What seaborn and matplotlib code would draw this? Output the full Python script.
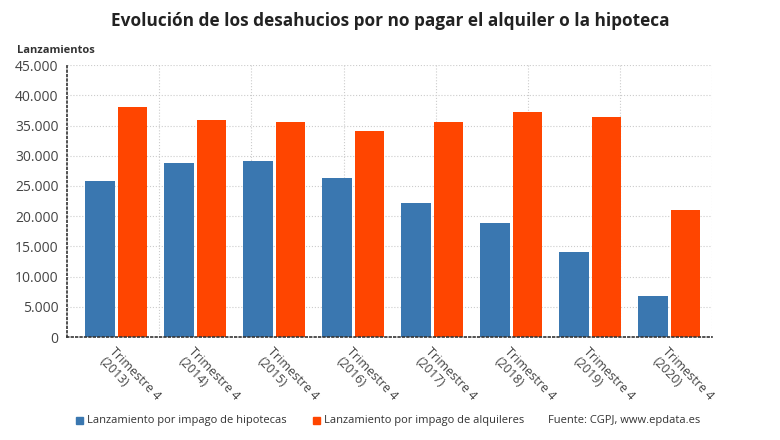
import numpy as np
import pandas as pd
import matplotlib.pyplot as plt
import seaborn as sns

years = ['2013', '2014', '2015', '2016', '2017', '2018', '2019', '2020']
hipotecas = [25800, 28800, 29100, 26300, 22200, 18900, 14100, 6800]
alquileres = [38000, 35900, 35600, 34100, 35600, 37200, 36400, 21000]
series_names = ['Lanzamiento por impago de hipotecas', 'Lanzamiento por impago de alquileres']
colors = ['#3a77b0', '#ff4500']
yticks = [0, 5000, 10000, 15000, 20000, 25000, 30000, 35000, 40000, 45000]

sns.set_style('white')
plt.rcParams['font.family'] = ['Open Sans', 'DejaVu Sans']

labels = [f'Trimestre 4\n({y})' for y in years]
df = pd.DataFrame({
    'periodo': labels * 2,
    'valor': hipotecas + alquileres,
    'serie': [series_names[0]] * len(years) + [series_names[1]] * len(years),
})

fig = plt.figure(figsize=(7.8, 4.4), dpi=100)
ax = fig.add_axes([0.086, 0.234, 0.827, 0.618])

sns.barplot(data=df, x='periodo', y='valor', hue='serie', palette=colors,
            width=0.822, gap=0.09, saturation=1, linewidth=0, legend=False, ax=ax)

ax.set_ylim(0, 45000)
ax.set_xlim(-0.62, len(years) - 0.46)
ax.set_yticks(yticks)
ax.set_yticklabels([f'{v:,}'.replace(',', '.') for v in yticks], fontsize=10, color='#444444')
ax.set_xticks(range(len(years)))
ax.set_xticklabels(labels, rotation=-46, ha='left', rotation_mode='anchor',
                   fontsize=9, color='#444444', linespacing=1.1)
ax.set_xlabel('')
ax.set_ylabel('')

# dotted grid: horizontal at y ticks, vertical splitting the width in 7 parts
for v in yticks[1:]:
    ax.axhline(v, color='#cccccc', lw=0.8, ls=':', zorder=0)
for k in range(1, 8):
    ax.plot([k / 7, k / 7], [0, 1], transform=ax.transAxes, color='#cccccc',
            lw=0.8, ls=':', zorder=0)

for side in ['top', 'right']:
    ax.spines[side].set_visible(False)
for side in ['left', 'bottom']:
    ax.spines[side].set_linestyle(':')
    ax.spines[side].set_color('#333333')
    ax.spines[side].set_linewidth(1.2)
ax.tick_params(axis='both', length=3, color='#333333', pad=3)

fig.text(0.5, 0.952, 'Evolución de los desahucios por no pagar el alquiler o la hipoteca',
         ha='center', va='center', fontsize=12.4, fontweight='bold', color='#222222')
fig.text(0.022, 0.885, 'Lanzamientos', ha='left', va='center', fontsize=8,
         fontweight='bold', color='#333333')

# legend row at the bottom
fig.patches.append(plt.Rectangle((0.0975, 0.036), 0.0095, 0.017, transform=fig.transFigure,
                                 color=colors[0], figure=fig))
fig.text(0.112, 0.044, series_names[0], ha='left', va='center', fontsize=8, color='#333333')
fig.patches.append(plt.Rectangle((0.401, 0.036), 0.0095, 0.017, transform=fig.transFigure,
                                 color=colors[1], figure=fig))
fig.text(0.416, 0.044, series_names[1], ha='left', va='center', fontsize=8, color='#333333')
fig.text(0.703, 0.044, 'Fuente: CGPJ, www.epdata.es', ha='left', va='center', fontsize=8,
         color='#333333')

fig.savefig('out.png', dpi=100, facecolor='white')
